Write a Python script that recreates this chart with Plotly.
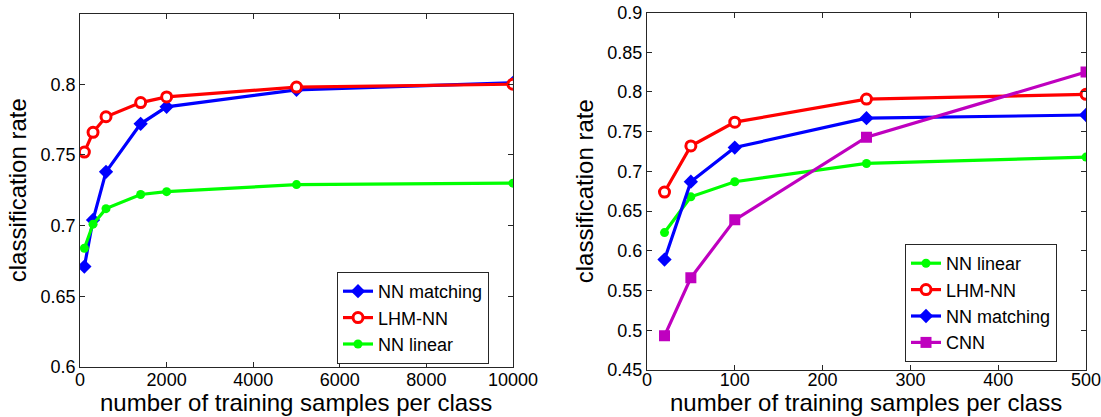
import plotly.graph_objects as go

# ---- left panel: large training sets ----
x_left = [100, 300, 600, 1400, 2000, 5000, 10000]
nn_matching_left = [0.671, 0.704, 0.738, 0.772, 0.784, 0.796, 0.801]
lhm_nn_left = [0.752, 0.766, 0.777, 0.787, 0.791, 0.798, 0.800]
nn_linear_left = [0.684, 0.701, 0.712, 0.722, 0.724, 0.729, 0.730]

# ---- right panel: small training sets ----
x_right = [20, 50, 100, 250, 500]
nn_linear_right = [0.623, 0.668, 0.687, 0.710, 0.718]
lhm_nn_right = [0.674, 0.732, 0.762, 0.791, 0.797]
nn_matching_right = [0.589, 0.687, 0.730, 0.767, 0.771]
cnn_right = [0.493, 0.566, 0.639, 0.743, 0.825]

left_xticks = [0, 2000, 4000, 6000, 8000, 10000]
left_yticks = [0.6, 0.65, 0.7, 0.75, 0.8]
right_xticks = [0, 100, 200, 300, 400, 500]
right_yticks = [0.45, 0.5, 0.55, 0.6, 0.65, 0.7, 0.75, 0.8, 0.85, 0.9]

x_title = "number of training samples per class"
y_title = "classification rate"

BLUE = "#0000ff"
RED = "#ff0000"
GREEN = "#00ff00"
MAGENTA = "#bf00bf"
FONT = "Liberation Sans, Arial, sans-serif"
LW = 3.2

LEFT_X = [0.0727, 0.4659]
RIGHT_X = [0.5876, 0.9864]

fig = go.Figure()


def add(x, y, name, color, symbol, size, xa, ya, legend, open_marker=False):
    marker = dict(symbol=symbol, size=size, color=color)
    if open_marker:
        marker = dict(symbol=symbol, size=size, color="white",
                      line=dict(color=color, width=3))
    fig.add_trace(go.Scatter(
        x=x, y=y, name=name, mode="lines+markers",
        line=dict(color=color, width=LW), marker=marker,
        xaxis=xa, yaxis=ya, legend=legend))


add(x_left, nn_matching_left, "NN matching", BLUE, "diamond", 11, "x", "y", "legend")
add(x_left, lhm_nn_left, "LHM-NN", RED, "circle", 10, "x", "y", "legend", open_marker=True)
add(x_left, nn_linear_left, "NN linear", GREEN, "circle", 9, "x", "y", "legend")

add(x_right, nn_linear_right, "NN linear", GREEN, "circle", 9, "x2", "y2", "legend2")
add(x_right, lhm_nn_right, "LHM-NN", RED, "circle", 10, "x2", "y2", "legend2", open_marker=True)
add(x_right, nn_matching_right, "NN matching", BLUE, "diamond", 11, "x2", "y2", "legend2")
add(x_right, cnn_right, "CNN", MAGENTA, "square", 11, "x2", "y2", "legend2")

axis_common = dict(
    showgrid=False, zeroline=False, showline=True, mirror="ticks",
    linecolor="#262626", linewidth=1, ticks="inside", ticklen=5,
    tickcolor="#262626", tickfont=dict(size=18, color="black", family=FONT),
    automargin=False, ticklabeloverflow="allow",
)
title_font = dict(size=24, color="black", family=FONT)

legend_common = dict(
    xanchor="left", yanchor="top",
    bgcolor="white", bordercolor="#262626", borderwidth=1,
    font=dict(size=18, color="black", family=FONT),
    tracegroupgap=0, itemwidth=30,
)

fig.update_layout(
    width=1101, height=417,
    margin=dict(l=0, r=0, t=0, b=0),
    paper_bgcolor="white", plot_bgcolor="white",
    font=dict(family=FONT, color="black"),
    xaxis=dict(domain=LEFT_X, range=[0, 10000], tickvals=left_xticks,
               ticktext=[str(v) for v in left_xticks], ticklabelstandoff=-4,
               anchor="y", **axis_common),
    yaxis=dict(domain=[0.1199, 0.9676], range=[0.6, 0.85], tickvals=left_yticks,
               ticktext=[f"{v:g}" for v in left_yticks],
               title=dict(text=y_title, font=title_font, standoff=6),
               anchor="x", **axis_common),
    xaxis2=dict(domain=RIGHT_X, range=[0, 500], tickvals=right_xticks,
                ticktext=[str(v) for v in right_xticks], ticklabelstandoff=-7,
                anchor="y2", **axis_common),
    yaxis2=dict(domain=[0.1127, 0.97], range=[0.45, 0.9], tickvals=right_yticks,
                ticktext=[f"{v:g}" for v in right_yticks],
                title=dict(text=y_title, font=title_font, standoff=6),
                anchor="x2", **axis_common),
    legend=dict(x=337 / 1101, y=1 - 272 / 417, **legend_common),
    legend2=dict(x=905 / 1101, y=1 - 244 / 417, **legend_common),
)

# x-axis titles sit along the bottom edge under each panel
for dom in (LEFT_X, RIGHT_X):
    fig.add_annotation(
        text=x_title, xref="paper", yref="paper",
        x=(dom[0] + dom[1]) / 2, y=0, xanchor="center", yanchor="bottom",
        showarrow=False, font=title_font, borderpad=0,
    )

fig.write_html("out.html")
